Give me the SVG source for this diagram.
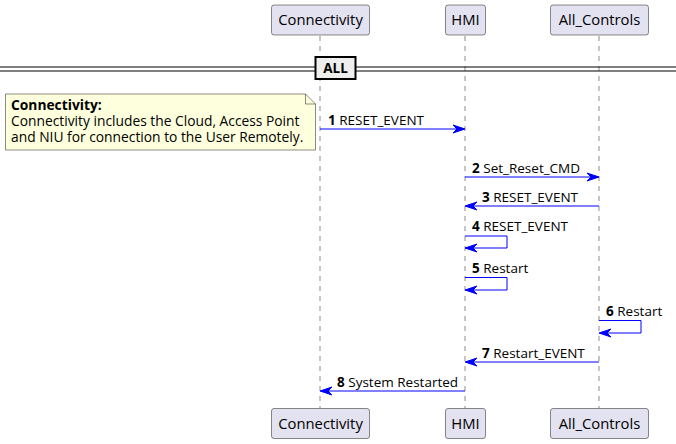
<svg xmlns="http://www.w3.org/2000/svg" width="676" height="444" viewBox="0 0 676 444">
<style>
.life{stroke:#181818;stroke-width:0.5;stroke-dasharray:5,5;fill:none}
.pbox{fill:#E2E2F0;stroke:#181818;stroke-width:0.5}
.pt{font-family:"Open Sans","DejaVu Sans",sans-serif;font-size:14.8px;fill:#000;text-anchor:middle}
.msg{stroke:#0000FF;stroke-width:1;fill:none}
.head{fill:#0000FF;stroke:#0000FF;stroke-width:1}
.ml{font-family:"Open Sans","DejaVu Sans",sans-serif;font-size:13.5px;fill:#000}
.nt{font-family:"Open Sans","DejaVu Sans",sans-serif;font-size:13.8px;fill:#000}
.num{font-weight:bold}
</style>
<rect width="676" height="444" fill="#FFFFFF"/>
<g id="lifelines">
<line class="life" x1="320" y1="36" x2="320" y2="408"/>
<line class="life" x1="465" y1="36" x2="465" y2="408"/>
<line class="life" x1="599" y1="36" x2="599" y2="408"/>
</g>
<g id="Connectivity">
<rect class="pbox" x="271.5" y="5" width="98" height="30" rx="2.5"/>
<text class="pt" x="320.5" y="25">Connectivity</text>
<rect class="pbox" x="271.5" y="408.5" width="98" height="30" rx="2.5"/>
<text class="pt" x="320.5" y="428.5">Connectivity</text>
</g>
<g id="HMI">
<rect class="pbox" x="445.5" y="5" width="40" height="30" rx="2.5"/>
<text class="pt" x="465.5" y="25">HMI</text>
<rect class="pbox" x="445.5" y="408.5" width="40" height="30" rx="2.5"/>
<text class="pt" x="465.5" y="428.5">HMI</text>
</g>
<g id="All_Controls">
<rect class="pbox" x="550.5" y="5" width="98" height="30" rx="2.5"/>
<text class="pt" x="599.5" y="25">All_Controls</text>
<rect class="pbox" x="550.5" y="408.5" width="98" height="30" rx="2.5"/>
<text class="pt" x="599.5" y="428.5">All_Controls</text>
</g>
<g id="divider">
<line x1="0" y1="67" x2="676" y2="67" stroke="#000" stroke-width="1"/>
<line x1="0" y1="71" x2="676" y2="71" stroke="#000" stroke-width="1"/>
<rect x="315.5" y="57" width="40" height="22" fill="#EEEEEE" stroke="#000" stroke-width="2"/>
<text x="335.5" y="73" font-family="'Open Sans','DejaVu Sans',sans-serif" font-size="13.5" font-weight="bold" text-anchor="middle">ALL</text>
</g>
<g id="note">
<path d="M5.5,94 L305.5,94 L315.5,104 L315.5,150 L5.5,150 Z" fill="#FEFFDD" stroke="#181818" stroke-width="0.5"/>
<path d="M305.5,94 L305.5,104 L315.5,104" fill="none" stroke="#181818" stroke-width="0.5"/>
<text class="nt" x="11" y="110" font-weight="bold">Connectivity:</text>
<text class="nt" x="11" y="126">Connectivity includes the Cloud, Access Point</text>
<text class="nt" x="11" y="142">and NIU for connection to the User Remotely.</text>
</g>
<g id="connectors">
<line class="msg" x1="320" y1="129" x2="464" y2="129"/>
<polygon class="head" points="453,125 465,129 453,133 457,129"/>
<text class="ml" x="328" y="125"><tspan class="num">1</tspan> RESET_EVENT</text>

<line class="msg" x1="465" y1="177" x2="598" y2="177"/>
<polygon class="head" points="587,173 599,177 587,181 591,177"/>
<text class="ml" x="472" y="173"><tspan class="num">2</tspan> Set_Reset_CMD</text>

<line class="msg" x1="599" y1="206" x2="466" y2="206"/>
<polygon class="head" points="477,202 465,206 477,210 473,206"/>
<text class="ml" x="482" y="202"><tspan class="num">3</tspan> RESET_EVENT</text>

<polyline class="msg" points="465,236 507,236 507,248 466,248"/>
<polygon class="head" points="477,244 465,248 477,252 473,248"/>
<text class="ml" x="472" y="231"><tspan class="num">4</tspan> RESET_EVENT</text>

<polyline class="msg" points="465,277.5 507,277.5 507,290 466,290"/>
<polygon class="head" points="477,286 465,290 477,294 473,290"/>
<text class="ml" x="472" y="273"><tspan class="num">5</tspan> Restart</text>

<polyline class="msg" points="599,320.5 641,320.5 641,333 600,333"/>
<polygon class="head" points="611,329 599,333 611,337 607,333"/>
<text class="ml" x="606" y="316"><tspan class="num">6</tspan> Restart</text>

<line class="msg" x1="599" y1="362" x2="466" y2="362"/>
<polygon class="head" points="477,358 465,362 477,366 473,362"/>
<text class="ml" x="482" y="358"><tspan class="num">7</tspan> Restart_EVENT</text>

<line class="msg" x1="465" y1="391" x2="321" y2="391"/>
<polygon class="head" points="332,387 320,391 332,395 328,391"/>
<text class="ml" x="337" y="387"><tspan class="num">8</tspan> System Restarted</text>
</g>
</svg>
